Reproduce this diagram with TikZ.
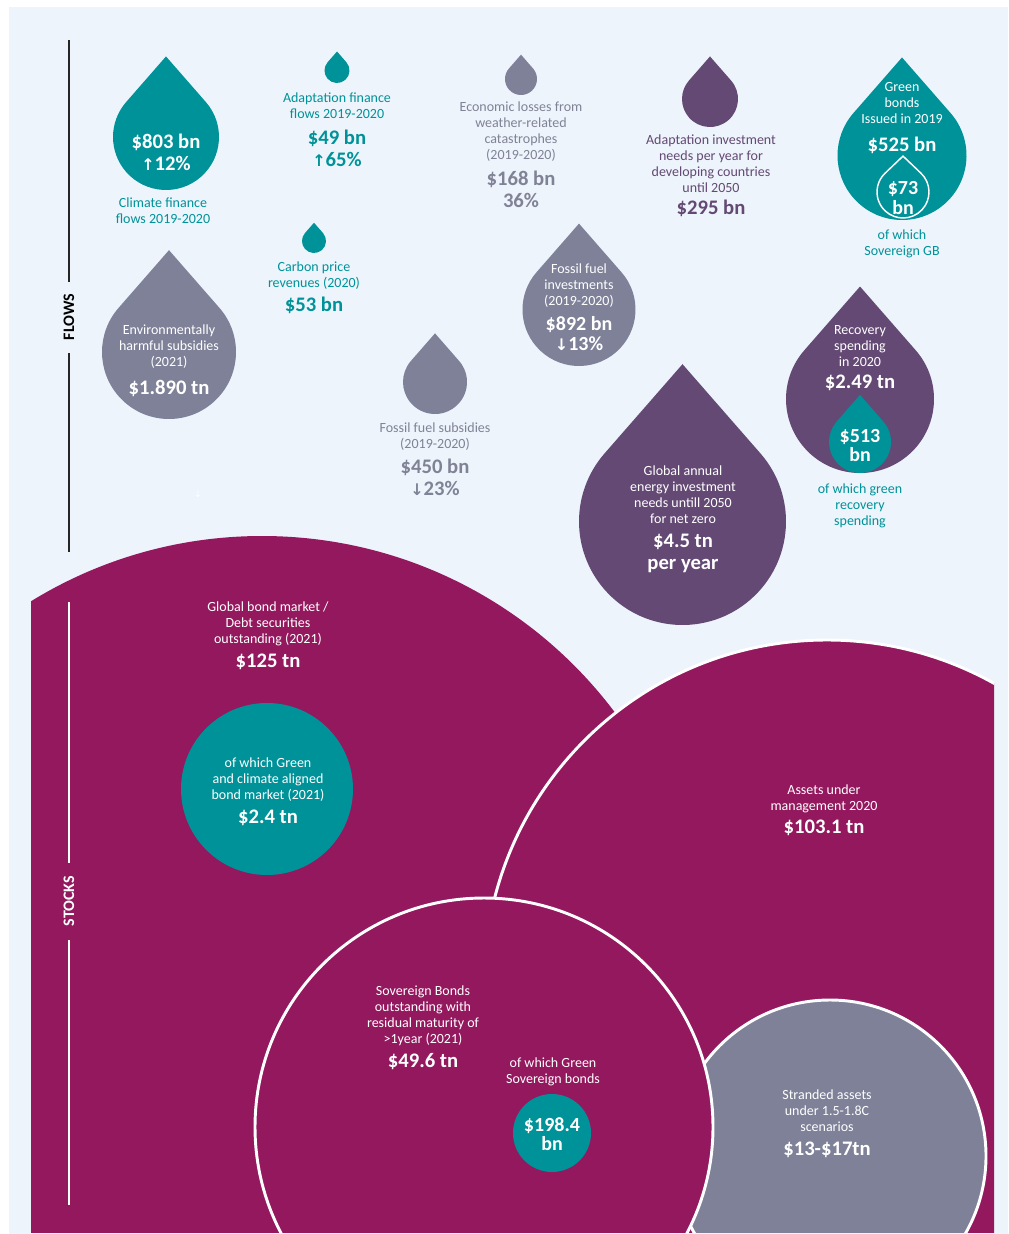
\documentclass[tikz,border=0pt]{standalone}
\usepackage{fontspec}
\setmainfont{Carlito}
\newfontfamily\symfont{DejaVu Sans}
\definecolor{teal1}{RGB}{0,146,153}
\definecolor{gray1}{RGB}{126,129,152}
\definecolor{graytxt}{RGB}{128,130,150}
\definecolor{purp}{RGB}{99,73,115}
\definecolor{mag}{RGB}{147,24,94}
\definecolor{bgblue}{RGB}{237,244,251}
\newcommand\mydrop[4]{\fill[#4] (#1,#2) ++(-41.14:#3) arc[start angle=-41.14,end angle=221.14,radius=#3] -- (#1,#2-1.52*#3) -- cycle;}
\newcommand\uparr{{\symfont\fontsize{12}{12}\selectfont ↑}}
\newcommand\dnarr{{\symfont\fontsize{12}{12}\selectfont ↓}}
\begin{document}
\begin{tikzpicture}[x=0.75pt,y=-0.75pt,
  lbl/.style={font=\fontsize{10.5}{12}\selectfont, align=center, inner sep=0pt},
  val/.style={font=\bfseries\fontsize{15.5}{16.5}\selectfont, align=center, inner sep=0pt},
  valsm/.style={font=\bfseries\fontsize{15}{14.5}\selectfont, align=center, inner sep=0pt},
  side/.style={font=\bfseries\fontsize{12}{12}\selectfont, inner sep=0pt, rotate=90},
  ring/.style={draw=white, line width=2.2pt}]
\useasboundingbox (0,0) rectangle (1008,1234);
\fill[white] (0,0) rectangle (1008,1234);
\fill[bgblue] (9,7) rectangle (1008,1234);

% ---------- FLOWS axis
\coordinate (f1) at (69,40);
\coordinate (f2) at (69,282);
\coordinate (f3) at (69,353);
\coordinate (f4) at (69,552);
\draw[black!85, line width=1.3pt] (f1) -- (f2);
\draw[black!85, line width=1.3pt] (f3) -- (f4);
\node[side, black] (flows) at (69,317) {FLOWS};

% ---------- drops
% Climate finance
\mydrop{166}{137}{53}{teal1}
\node[val, white] (cfv) at (166,152) {\$803 bn\\\uparr12\%};
\node[lbl, teal1] (cfl) at (163,210.5) {Climate finance\\flows 2019-2020};

% Adaptation finance
\mydrop{337}{70.5}{12.5}{teal1}
\node[lbl, teal1] (afl) at (337,105.5) {Adaptation finance\\flows 2019-2020};
\node[val, teal1] (afv) at (337,148.5) {\$49 bn\\\uparr65\%};

% Economic losses
\mydrop{521}{79}{16}{gray1}
\node[lbl, graytxt] (ell) at (521,132) {Economic losses from\\weather-related\\catastrophes\\(2019-2020)};
\node[val, graytxt] (elv) at (521,189) {\$168 bn\\36\%};

% Adaptation investment
\mydrop{710}{99}{28}{purp}
\node[lbl, purp] (ail) at (711,163.5) {Adaptation investment\\needs per year for\\developing countries\\until 2050};
\node[val, purp] (aiv) at (711,208) {\$295 bn};

% Green bonds
\mydrop{902}{155.5}{64.5}{teal1}
\node[lbl, white] (gbl) at (902,103) {Green\\bonds\\Issued in 2019};
\node[val, white] (gbv) at (902,145) {\$525 bn};
\draw[white, line width=1.1pt] (903,192) ++(-46.44:26) arc[start angle=-46.44,end angle=226.44,radius=26] -- (903,192-1.38*26) -- cycle;
\node[valsm, white] (sgv) at (903,198) {\$73\\bn};
\node[lbl, teal1] (sgl) at (902,243.5) {of which\\Sovereign GB};

% Environmentally harmful subsidies
\mydrop{169}{352}{67}{gray1}
\node[lbl, white] (ehl) at (169,346.5) {Environmentally\\harmful subsidies\\(2021)};
\node[val, white] (ehv) at (169,388) {\$1.890 tn};
\node[font=\symfont\fontsize{7}{7}\selectfont, white, inner sep=0pt] (tiny) at (198,494) {↓};

% Carbon price
\mydrop{314}{241}{12}{teal1}
\node[lbl, teal1] (cpl) at (314,276) {Carbon price\\revenues (2020)};
\node[val, teal1] (cpv) at (314,305) {\$53 bn};

% Fossil fuel subsidies
\mydrop{435}{382}{32}{gray1}
\node[lbl, graytxt] (fsl) at (435,437) {Fossil fuel subsidies\\(2019-2020)};
\node[val, graytxt] (fsv) at (435,477) {\$450 bn\\\dnarr23\%};

% Fossil fuel investments
\mydrop{579}{309.5}{56.5}{gray1}
\node[lbl, white] (fil) at (579,286) {Fossil fuel\\investments\\(2019-2020)};
\node[valsm, white] (fiv) at (579,333.5) {\$892 bn\\\dnarr13\%};

% Global annual energy investment
\mydrop{682.5}{521.5}{103.5}{purp}
\node[lbl, white] (gel) at (683,495) {Global annual\\energy investment\\needs untill 2050\\for net zero};
\node[val, white] (gev) at (683,553.5) {\$4.5 tn\\per year};

% Recovery spending
\mydrop{860}{399}{74}{purp}
\node[lbl, white] (rsl) at (860,346) {Recovery\\spending\\in 2020};
\node[val, white] (rsv) at (860,383) {\$2.49 tn};
\mydrop{860}{442}{31}{teal1}
\node[valsm, white] (grv) at (860,445.5) {\$513\\bn};
\node[lbl, teal1] (grl) at (860,506) {of which green\\recovery\\spending};

% ---------- STOCKS
\begin{scope}
\clip (31,0) rectangle (994,1232);
\fill[mag] (262,977) circle[radius=441];
\fill[teal1] (267,789) circle[radius=86];
\path[fill=mag, ring] (827,983) circle[radius=343];
\path[fill=gray1, ring] (830,1156) circle[radius=156];
\path[fill=mag, ring] (484,1127) circle[radius=229];
\fill[teal1] (552,1133) circle[radius=39];
\end{scope}

\coordinate (s1) at (69,602);
\coordinate (s2) at (69,863);
\coordinate (s3) at (69,940);
\coordinate (s4) at (69,1205);
\draw[white, line width=1pt] (s1) -- (s2);
\draw[white, line width=1pt] (s3) -- (s4);
\node[side, white] (stocks) at (69,901) {STOCKS};

\node[lbl, white] (gbml) at (268,623.5) {Global bond market /\\Debt securities\\outstanding (2021)};
\node[val, white] (gbmv) at (268,662) {\$125 tn};
\node[lbl, white] (gcl) at (268,780) {of which Green\\and climate aligned\\bond market (2021)};
\node[val, white] (gcv) at (268,818) {\$2.4 tn};
\node[lbl, white] (auml) at (824,798.5) {Assets under\\management 2020};
\node[val, white] (aumv) at (824,828) {\$103.1 tn};
\node[lbl, white] (sbl) at (423,1016) {Sovereign Bonds\\outstanding with\\residual maturity of\\>1year (2021)};
\node[val, white] (sbv) at (423,1062) {\$49.6 tn};
\node[lbl, white] (gsl) at (553,1071.5) {of which Green\\Sovereign bonds};
\node[valsm, white] (gsv) at (552,1134) {\$198.4\\bn};
\node[lbl, white] (sal) at (827,1110.5) {Stranded assets\\under 1.5-1.8C\\scenarios};
\node[val, white] (sav) at (827,1150) {\$13-\$17tn};
\end{tikzpicture}
\end{document}
